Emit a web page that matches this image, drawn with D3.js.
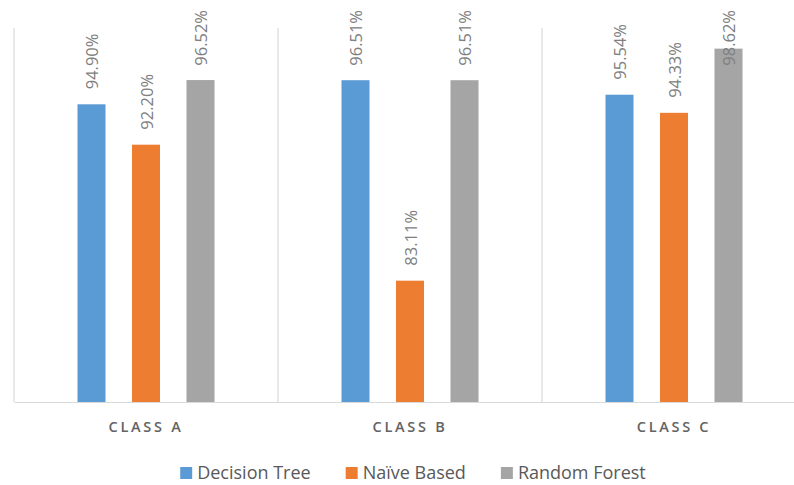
<!DOCTYPE html>
<html>
<head>
<meta charset="utf-8">
<script src="https://cdn.jsdelivr.net/npm/d3@7"></script>
<style>
  html, body { margin: 0; padding: 0; background: #fff; }
  svg { display: block; }
</style>
</head>
<body>
<svg id="chart" width="794" height="485"></svg>
<script>
// Accuracy per class for each classifier
const categories = ["CLASS A", "CLASS B", "CLASS C"];
const seriesNames = ["Decision Tree", "Naïve Based", "Random Forest"];
const decisionTree = [94.90, 96.51, 95.54];
const naiveBased   = [92.20, 83.11, 94.33];
const randomForest = [96.52, 96.51, 98.62];
const seriesColors = ["#5b9bd5", "#ed7d31", "#a5a5a5"];
const yDomain = [75, 100];

const seriesValues = [decisionTree, naiveBased, randomForest];

const svg = d3.select("#chart");
const font = "'Open Sans', sans-serif";

const plot = { left: 14, right: 806, top: 28, bottom: 402 };

const x0 = d3.scaleBand().domain(categories).range([plot.left, plot.right]);
const x1 = d3.scaleBand().domain(seriesNames).range([0, x0.bandwidth()])
  .paddingInner(0.486).paddingOuter(1.165);
const y = d3.scaleLinear().domain(yDomain).range([plot.bottom, plot.top]);

// Vertical category dividers
const dividers = categories.map(c => x0(c)).concat([plot.right]);
svg.append("g").selectAll("line").data(dividers).join("line")
  .attr("x1", d => d).attr("x2", d => d)
  .attr("y1", plot.top).attr("y2", plot.bottom)
  .attr("stroke", "#d9d9d9").attr("stroke-width", 1.2);

// Category axis
const xAxis = svg.append("g")
  .attr("transform", `translate(0,${plot.bottom})`)
  .call(d3.axisBottom(x0).tickSize(0).tickPadding(20));
xAxis.select(".domain").attr("stroke", "#d9d9d9").attr("stroke-width", 1.2);
xAxis.selectAll("text")
  .attr("font-family", font).attr("font-size", 14.5).attr("font-weight", 600)
  .attr("letter-spacing", "2.7px").attr("fill", "#636363");

// Bars
const rows = [];
categories.forEach((c, i) => seriesNames.forEach((s, j) =>
  rows.push({ cat: c, series: s, value: seriesValues[j][i], color: seriesColors[j] })));

svg.append("g").selectAll("rect").data(rows).join("rect")
  .attr("x", d => x0(d.cat) + x1(d.series))
  .attr("y", d => y(d.value))
  .attr("width", x1.bandwidth())
  .attr("height", d => y(yDomain[0]) - y(d.value))
  .attr("fill", d => d.color);

// Rotated value labels, kept inside the top of the chart
const labels = svg.append("g").selectAll("text").data(rows).join("text")
  .attr("font-family", font).attr("font-size", 16.5)
  .attr("fill", "#808080")
  .attr("text-anchor", "start")
  .attr("dy", "0.36em")
  .text(d => d.value.toFixed(2) + "%");
labels.each(function(d) {
  const len = this.getComputedTextLength();
  const cx = x0(d.cat) + x1(d.series) + x1.bandwidth() / 2 + 1;
  const cy = Math.max(y(d.value) - 15, 10 + len);
  d3.select(this).attr("transform", `translate(${cx},${cy}) rotate(-90)`);
});

// Legend
const legend = svg.append("g");
const items = legend.selectAll("g").data(seriesNames).join("g");
items.append("rect").attr("width", 12).attr("height", 12).attr("y", -12)
  .attr("fill", (d, i) => seriesColors[i]);
items.append("text").attr("x", 17).attr("y", 0)
  .attr("font-family", font).attr("font-size", 18).attr("fill", "#595959")
  .text(d => d);
let offset = 0;
const offsets = [];
items.each(function() {
  offsets.push(offset);
  offset += 17 + d3.select(this).select("text").node().getComputedTextLength() + 35;
});
const total = offset - 35;
const startX = 413 - total / 2;
items.attr("transform", (d, i) => `translate(${startX + offsets[i]},479)`);
</script>
</body>
</html>
